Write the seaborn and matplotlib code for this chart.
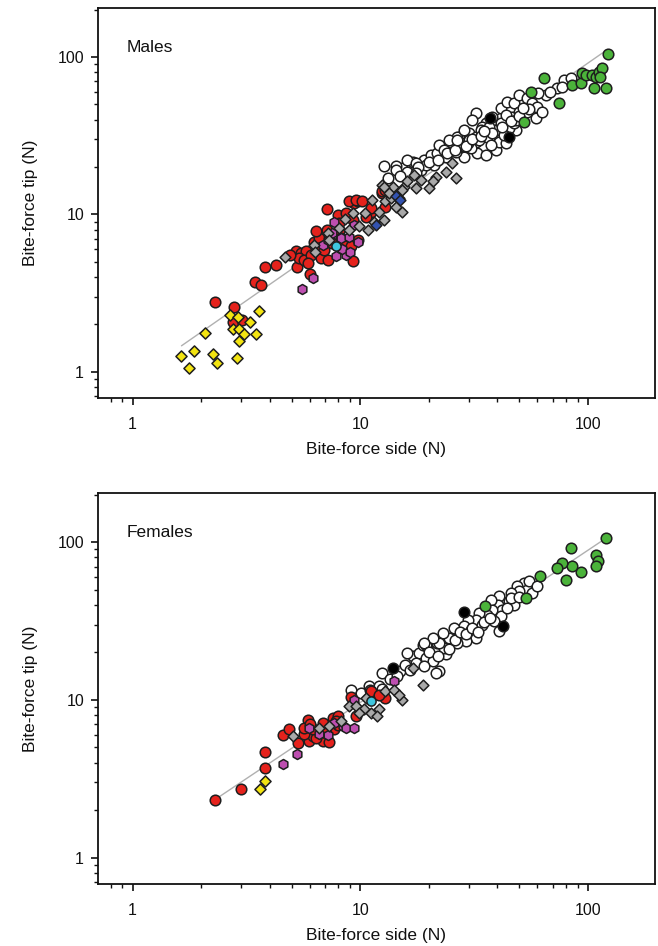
import numpy as np
import pandas as pd
import matplotlib
matplotlib.use("Agg")
import matplotlib.pyplot as plt
import matplotlib.ticker as mticker
import seaborn as sns

sns.set_theme(style="white")
plt.rcParams['font.family'] = ['Liberation Sans', 'DejaVu Sans']

# ---------------- Males ----------------
m_yellow_x = [1.64, 1.87, 1.77, 2.07, 2.26, 2.35, 2.68, 2.90, 2.75, 2.94, 3.10, 2.92, 2.88, 3.29, 3.49, 3.58]
m_yellow_y = [1.26, 1.36, 1.06, 1.76, 1.30, 1.14, 2.30, 2.24, 1.87, 1.87, 1.74, 1.56, 1.23, 2.06, 1.74, 2.42]

m_red_x = [2.31, 2.78, 2.75, 3.02, 3.45, 3.67, 3.83, 4.27, 5.26, 6.02, 7.11,
           5.22, 5.50, 5.77, 5.36, 5.68, 6.08,
           6.29, 6.61, 7.11, 6.38, 6.72, 7.19, 6.61,
           7.95, 8.09, 8.65, 9.25, 9.42, 8.95, 9.73,
           8.09, 8.22, 8.37, 9.09, 9.73, 9.25,
           11.1, 12.5, 12.9, 9.58, 10.2, 11.1, 12.5, 12.9,
           6.9, 7.5, 5.9, 4.9, 10.6]
m_red_y = [2.77, 2.58, 2.06, 2.12, 3.74, 3.57, 4.62, 4.78, 4.62, 4.19, 10.8,
           5.81, 5.67, 5.81, 5.27, 5.14, 5.53,
           6.72, 7.06, 7.97, 7.78, 5.27, 5.14, 6.10,
           9.93, 8.79, 10.2, 9.23, 11.8, 12.1, 12.1,
           7.78, 7.06, 6.40, 6.25, 6.88, 5.02,
           10.4, 13.6, 11.2, 12.4, 12.1, 10.9, 14.0, 14.3,
           5.9, 6.6, 4.9, 5.5, 9.6]

m_mag_x = [5.55, 6.18, 6.83, 7.19, 7.69, 7.82, 8.22, 8.65, 8.95, 9.42, 9.73, 8.3, 7.5, 9.0]
m_mag_y = [3.35, 3.92, 6.40, 6.88, 9.00, 5.40, 7.06, 5.53, 7.23, 8.58, 6.72, 6.0, 7.6, 5.8]

m_gray_x = [4.69, 6.29, 7.19, 8.09, 8.95, 9.25, 10.5, 10.8, 11.5, 12.1, 12.7, 12.9, 13.6, 14.3, 15.3,
            15.6, 13.9, 12.5, 11.3,
            12.7, 13.4, 16.1, 17.6, 18.5, 20.1, 21.5, 17.2, 23.8, 25.4, 14.8, 15.3, 20.8, 26.2,
            6.3, 7.3, 8.6, 9.9]
m_gray_y = [5.35, 6.40, 7.60, 8.18, 7.97, 10.2, 10.2, 7.97, 9.00, 10.4, 9.23, 12.1, 12.7, 11.2, 10.4,
            15.0, 15.0, 15.4, 12.4,
            14.9, 13.6, 16.2, 14.7, 16.6, 14.7, 17.4, 17.8, 18.7, 21.1, 12.7, 14.3, 16.2, 17.0,
            5.8, 6.9, 9.4, 8.4]

m_blue_x = [14.3, 14.9, 11.7]
m_blue_y = [13.0, 12.4, 8.6]

m_cyan_x = [7.82]
m_cyan_y = [6.25]

m_black_x = [37.0, 45.0]
m_black_y = [41.0, 31.0]

m_white_x = [13.2, 15.3, 17.0, 19.1, 20.4, 21.8, 24.6, 25.0, 27.2, 27.6, 30.1, 32.2, 28.6, 32.7,
             35.6, 36.8, 39.4, 41.4, 43.5, 46.5, 35.6, 39.4, 32.2, 48.1, 18.5, 21.1, 23.8, 22.2,
             16.1, 30.5, 14.3, 12.7,
             26.7, 27.6, 31.1, 32.2, 34.4, 36.2, 38.0, 39.4, 41.4, 41.4, 43.5, 44.3, 45.1, 47.3,
             49.8, 49.8, 54.2, 54.2, 57.0, 60.0, 58.9, 65.2, 73.3, 78.5, 84.0, 77.3,
             33.8, 40.7, 43.5, 29.6, 26.2, 23.4, 19.4, 17.6, 14.3, 37.4, 47.3,
             24.6, 28.6, 30.1, 33.3, 36.8, 42.7, 48.1, 63.1, 60.5,
             16.0, 18.0, 20.0, 22.0, 24.0, 26.0, 29.0, 31.0, 34.0, 38.0, 42.0, 46.0, 50.0, 55.0,
             15.0, 17.5, 26.5, 35.0, 52.0, 68.0]
m_white_y = [17.0, 19.7, 21.6, 22.2, 23.9, 24.5, 27.0, 29.0, 31.2, 27.0, 32.8, 29.0, 23.3, 24.5,
             37.9, 30.5, 34.4, 40.8, 34.4, 41.8, 23.9, 25.7, 43.9, 34.4, 19.2, 20.6, 23.3, 27.6,
             22.2, 26.3, 20.2, 20.2,
             31.2, 28.4, 39.8, 31.2, 36.1, 31.2, 41.8, 34.4, 47.2, 37.9, 42.8, 52.0, 35.3, 50.8,
             57.4, 45.0, 54.7, 45.0, 50.8, 48.3, 40.8, 57.4, 63.3, 71.4, 73.2, 64.8,
             34.4, 29.0, 28.4, 28.4, 25.0, 25.7, 20.6, 21.1, 19.2, 27.6, 37.9,
             29.7, 34.4, 29.7, 29.7, 36.1, 32.0, 39.8, 45.0, 59.0,
             18.5, 20.0, 21.5, 22.0, 24.5, 25.5, 27.0, 30.0, 31.5, 33.0, 36.0, 39.0, 42.0, 47.0,
             17.5, 18.3, 29.5, 34.0, 47.5, 60.0]

m_green_x = [64.1, 56.0, 74.6, 52.4, 85.3, 92.9, 94.4, 97.7, 104.5, 108.0, 111.7, 115.6, 113.5, 106.2, 119.6, 122.7]
m_green_y = [73.2, 60.2, 50.8, 38.8, 66.4, 68.0, 78.8, 76.9, 76.9, 75.0, 80.7, 84.7, 75.0, 63.3, 63.3, 104.5]

m_fit_x = [1.64, 120.0]
m_fit_y = [1.46, 110.0]

# ---------------- Females ----------------
f_yellow_x = [3.82, 3.64]
f_yellow_y = [3.06, 2.71]

f_red_x = [2.31, 2.98, 3.82, 3.82, 4.56, 5.35, 5.98, 6.18, 5.68, 6.83, 5.87, 5.68, 6.39, 6.18,
           6.83, 7.56, 7.95, 7.70, 7.30, 4.88, 7.07, 9.10, 9.58, 11.1, 12.9, 12.1, 6.0, 7.8, 8.0]
f_red_y = [2.31, 2.73, 3.68, 4.69, 5.98, 5.34, 5.48, 5.89, 6.09, 5.48, 7.50, 6.65, 5.75, 6.49,
           7.15, 7.69, 7.88, 6.49, 5.40, 6.49, 6.18, 10.5, 7.88, 11.4, 10.3, 10.8, 7.0, 7.3, 6.9]

f_mag_x = [4.56, 5.28, 5.98, 7.70, 8.36, 8.65, 9.42, 7.19, 9.42, 14.1, 6.6]
f_mag_y = [3.94, 4.51, 6.65, 7.15, 6.81, 6.65, 6.65, 6.03, 10.0, 13.1, 6.1]

f_gray_x = [5.05, 6.61, 7.31, 8.95, 9.58, 10.6, 10.4, 11.1, 12.1, 11.9, 12.9, 14.1, 15.3, 18.8, 17.0, 9.9, 8.2, 14.8]
f_gray_y = [5.89, 6.65, 6.81, 9.12, 9.12, 10.3, 8.69, 8.28, 8.69, 7.88, 11.4, 11.6, 10.0, 12.5, 15.9, 8.28, 7.3, 10.8]

f_cyan_x = [11.1]
f_cyan_y = [9.82]

f_black_x = [13.9, 28.6, 42.5]
f_black_y = [15.9, 36.0, 29.5]

f_white_x = [9.10, 10.1, 10.9, 12.1, 12.5, 15.0, 15.8, 17.0, 18.1, 19.4, 20.8, 22.2, 21.5, 23.8,
             18.8, 16.1, 21.5, 19.4, 21.8, 23.4,
             52.4, 54.2, 49.0, 49.8, 57.0, 45.8, 45.1, 47.3, 40.7, 40.1, 42.1, 37.4, 38.0, 41.4,
             36.2, 33.3, 32.2, 34.4, 38.7, 40.7, 29.6, 28.6, 30.5, 27.2, 25.8, 24.6, 23.0, 22.2,
             20.8, 19.1, 32.2, 29.0, 26.7, 55.0, 59.5,
             11.0, 12.5, 13.5, 14.5, 16.5, 17.5, 19.0, 20.0, 22.0, 24.5, 26.0, 27.5, 29.0, 31.0,
             33.0, 35.0, 37.0, 44.0, 46.0, 50.0]
f_white_y = [11.6, 11.1, 12.2, 12.2, 14.8, 15.2, 16.7, 18.9, 19.8, 18.4, 17.6, 15.2, 20.8, 19.4,
             22.4, 19.8, 14.8, 22.4, 22.9, 21.3,
             55.0, 49.9, 52.5, 48.7, 47.6, 47.6, 42.2, 40.1, 45.3, 40.1, 37.3, 43.2, 37.3, 33.9,
             34.7, 35.5, 32.2, 30.0, 31.5, 27.2, 32.2, 29.3, 27.9, 25.9, 28.6, 24.7, 26.5, 22.9,
             24.7, 22.9, 24.7, 23.5, 22.9, 56.4, 52.5,
             11.5, 11.8, 13.5, 14.2, 15.5, 17.2, 16.5, 20.0, 19.0, 21.0, 24.0, 27.0, 26.0, 28.5,
             27.0, 31.0, 33.0, 38.0, 44.0, 45.0]

f_green_x = [120.3, 84.0, 108.0, 110.9, 108.0, 92.9, 85.3, 77.3, 73.3, 80.3, 61.5, 53.3, 35.3]
f_green_y = [106.0, 91.6, 83.2, 76.2, 70.2, 64.3, 70.8, 73.6, 68.4, 57.2, 60.7, 44.2, 39.2]

f_fit_x = [2.31, 120.0]
f_fit_y = [2.34, 106.0]

# ---------------- styling ----------------
EDGE = "#1e1e1e"
styles = {
    "white":   dict(color="#ffffff", marker="o", s=58),
    "red":     dict(color="#e5221c", marker="o", s=58),
    "magenta": dict(color="#bd4fb0", marker="h", s=52),
    "gray":    dict(color="#a9a9a9", marker="D", s=30),
    "cyan":    dict(color="#3fc6df", marker="o", s=44),
    "blue":    dict(color="#3353b0", marker="D", s=30),
    "black":   dict(color="#000000", marker="o", s=58),
    "yellow":  dict(color="#f3e411", marker="D", s=32),
    "green":   dict(color="#4bb33a", marker="o", s=58),
}

def panel(ax, groups, fit_x, fit_y, title):
    sns.lineplot(x=fit_x, y=fit_y, ax=ax, color="#b0b0b0", lw=1.0, zorder=1)
    for name, (gx, gy) in groups.items():
        st = styles[name]
        df = pd.DataFrame({"x": gx, "y": gy})
        sns.scatterplot(data=df, x="x", y="y", ax=ax, color=st["color"], marker=st["marker"],
                        s=st["s"], edgecolor=EDGE, linewidth=1.1, zorder=3, legend=False)
    ax.set_xscale("log")
    ax.set_yscale("log")
    ax.set_xlim(0.705, 197)
    ax.set_ylim(0.68, 205)
    for sp in ax.spines.values():
        sp.set_linewidth(1.3)
        sp.set_color("#111111")
    ax.xaxis.set_major_locator(mticker.FixedLocator([1, 10, 100]))
    ax.yaxis.set_major_locator(mticker.FixedLocator([1, 10, 100]))
    ax.xaxis.set_major_formatter(mticker.FixedFormatter(["1", "10", "100"]))
    ax.yaxis.set_major_formatter(mticker.FixedFormatter(["1", "10", "100"]))
    ax.xaxis.set_minor_locator(mticker.LogLocator(base=10, subs=np.arange(2, 10)))
    ax.yaxis.set_minor_locator(mticker.LogLocator(base=10, subs=np.arange(2, 10)))
    ax.xaxis.set_minor_formatter(mticker.NullFormatter())
    ax.yaxis.set_minor_formatter(mticker.NullFormatter())
    ax.tick_params(which="major", direction="out", length=5, width=1.2, labelsize=11.5,
                   bottom=True, left=True, top=False, right=False, colors="#111111")
    ax.tick_params(axis="x", which="major", pad=9)
    ax.tick_params(axis="y", which="major", pad=5)
    ax.tick_params(which="minor", direction="out", length=3, width=1.0,
                   bottom=True, left=True, top=False, right=False, colors="#111111")
    ax.set_xlabel("Bite-force side (N)", fontsize=12.5, color="#111111", labelpad=7)
    ax.set_ylabel("Bite-force tip (N)", fontsize=12.5, color="#111111", labelpad=14)
    ax.text(0.052, 0.9, title, transform=ax.transAxes, fontsize=12.5, ha="left", va="center",
            color="#111111")
    ax.grid(False)

fig = plt.figure(figsize=(6.58, 9.46), dpi=100)
ax1 = fig.add_axes([98 / 658, 1 - 398 / 946, 557 / 658, 390 / 946])
ax2 = fig.add_axes([98 / 658, 1 - 884 / 946, 557 / 658, 391 / 946])

male_groups = {
    "white": (m_white_x, m_white_y),
    "black": (m_black_x, m_black_y),
    "red": (m_red_x, m_red_y),
    "magenta": (m_mag_x, m_mag_y),
    "gray": (m_gray_x, m_gray_y),
    "cyan": (m_cyan_x, m_cyan_y),
    "blue": (m_blue_x, m_blue_y),
    "yellow": (m_yellow_x, m_yellow_y),
    "green": (m_green_x, m_green_y),
}
female_groups = {
    "white": (f_white_x, f_white_y),
    "black": (f_black_x, f_black_y),
    "red": (f_red_x, f_red_y),
    "magenta": (f_mag_x, f_mag_y),
    "gray": (f_gray_x, f_gray_y),
    "cyan": (f_cyan_x, f_cyan_y),
    "yellow": (f_yellow_x, f_yellow_y),
    "green": (f_green_x, f_green_y),
}

panel(ax1, male_groups, m_fit_x, m_fit_y, "Males")
panel(ax2, female_groups, f_fit_x, f_fit_y, "Females")

fig.savefig("out.png", dpi=100)
